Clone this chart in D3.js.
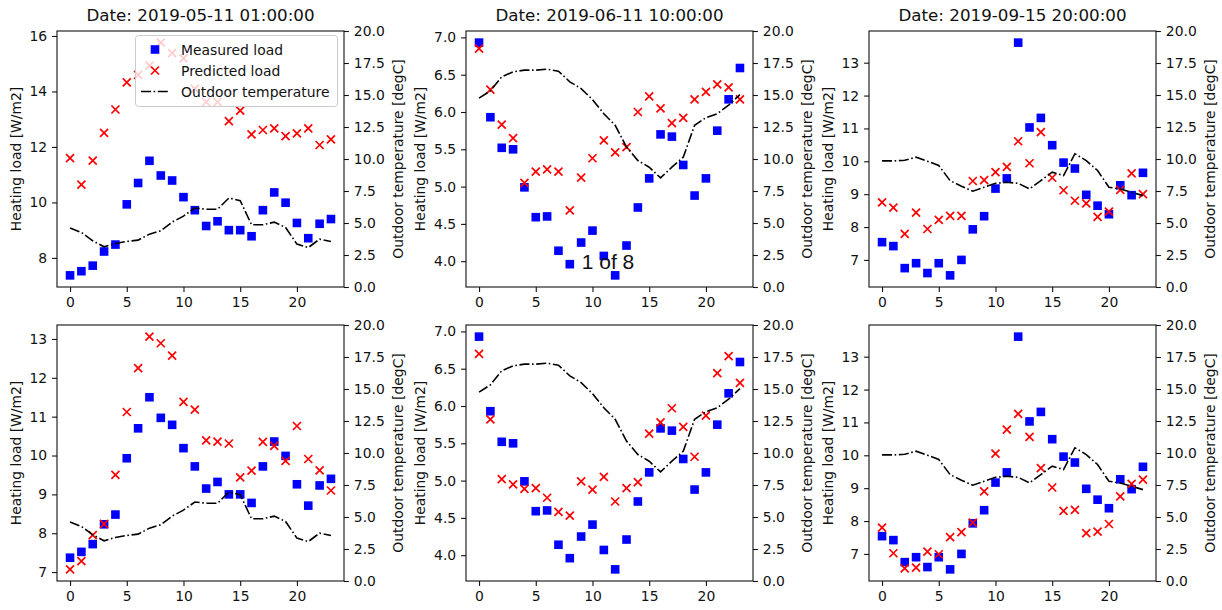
<!DOCTYPE html>
<html><head><meta charset="utf-8">
<script src="https://cdn.jsdelivr.net/npm/d3@7"></script>
<style>
body{margin:0;background:#fff}
svg{display:block}
text{font-family:"DejaVu Sans",sans-serif;fill:#111}
</style>
</head><body>
<svg id="c" width="1222" height="610"></svg>
<script>
// ---------- data ----------
const hours = [0,1,2,3,4,5,6,7,8,9,10,11,12,13,14,15,16,17,18,19,20,21,22,23];
const titles = ["Date: 2019-05-11 01:00:00","Date: 2019-06-11 10:00:00","Date: 2019-09-15 20:00:00"];
const seriesNames = ["Measured load","Predicted load","Outdoor temperature"];

const measuredA = [7.37,7.52,7.72,8.23,8.48,9.93,10.70,11.50,10.97,10.79,10.19,9.72,9.15,9.32,9.00,9.00,8.78,9.72,10.36,9.99,9.26,8.71,9.23,9.40];
const predictedA1 = [11.60,10.64,11.51,12.51,13.35,14.33,14.60,14.93,15.76,15.38,15.19,14.09,13.62,13.62,12.93,13.31,12.45,12.61,12.67,12.39,12.49,12.67,12.07,12.27];
const predictedA2 = [7.07,7.28,7.95,8.24,9.50,11.12,12.25,13.06,12.89,12.57,11.38,11.18,10.39,10.36,10.31,9.44,9.61,10.35,10.25,9.86,10.76,9.91,9.62,9.10];
const temperatureA = [4.60,4.26,3.61,3.14,3.40,3.56,3.66,4.13,4.39,5.07,5.54,6.17,6.07,6.07,6.95,6.75,4.86,4.86,5.07,4.65,3.35,3.08,3.74,3.56];

const measuredB = [6.93,5.93,5.52,5.50,4.99,4.59,4.60,4.14,3.96,4.25,4.41,4.07,3.81,4.21,4.72,5.11,5.70,5.67,5.29,4.88,5.11,5.75,6.17,6.59];
const predictedB1 = [6.85,6.30,5.83,5.65,5.05,5.20,5.23,5.20,4.68,5.12,5.38,5.62,5.46,5.53,6.00,6.21,6.05,5.85,5.92,6.17,6.27,6.37,6.33,6.17];
const predictedB2 = [6.70,5.82,5.02,4.95,4.89,4.90,4.77,4.58,4.53,4.99,4.88,5.05,4.72,4.90,4.98,5.63,5.78,5.97,5.72,5.32,5.87,6.44,6.67,6.31];
const temperatureB = [14.75,15.32,16.42,16.81,16.94,16.94,17.02,16.86,16.03,15.50,14.64,13.54,12.63,10.93,9.88,9.36,8.52,9.36,10.14,12.63,13.23,13.54,14.20,15.03];

const measuredC = [7.54,7.42,6.75,6.90,6.60,6.90,6.53,7.00,7.93,8.33,9.17,9.48,13.61,11.03,11.32,10.49,9.96,9.78,8.98,8.65,8.39,9.27,8.97,9.65];
const predictedC1 = [8.75,8.59,7.79,8.44,7.94,8.22,8.34,8.34,9.40,9.43,9.67,9.83,10.61,9.94,10.89,9.50,9.12,8.80,8.72,8.31,8.47,9.13,9.63,9.00];
const predictedC2 = [7.80,7.02,6.56,6.58,7.07,6.99,7.51,7.66,7.95,8.90,10.05,10.78,11.26,10.56,9.61,9.02,8.31,8.34,7.63,7.68,7.91,8.75,9.13,9.26];
const temperatureC = [9.85,9.85,9.90,10.14,9.83,9.49,8.31,7.87,7.48,7.79,8.10,8.18,8.10,7.66,8.31,8.97,8.71,10.41,9.88,9.10,7.79,7.66,7.40,7.14];

const loadTicksA1 = [8,10,12,14,16];
const loadTicksA2 = [7,8,9,10,11,12,13];
const loadTicksB = [4.0,4.5,5.0,5.5,6.0,6.5,7.0];
const loadTicksC = [7,8,9,10,11,12,13];
const tempTicks = [0,2.5,5,7.5,10,12.5,15,17.5,20];
const hourTicks = [0,5,10,15,20];
const tempDomain = [0,20];

// ---------- layout ----------
const colLeft = [57, 466, 869], rowTop = [31, 325], W = 287, H = 256;
const FS = 13.9, TL = 4.9, TP = 4.9;

const panels = [
  {c:0,r:0,m:measuredA,p:predictedA1,t:temperatureA,ticks:loadTicksA1,fmt:d3.format("d"),legend:true},
  {c:1,r:0,m:measuredB,p:predictedB1,t:temperatureB,ticks:loadTicksB,fmt:d3.format(".1f")},
  {c:2,r:0,m:measuredC,p:predictedC1,t:temperatureC,ticks:loadTicksC,fmt:d3.format("d")},
  {c:0,r:1,m:measuredA,p:predictedA2,t:temperatureA,ticks:loadTicksA2,fmt:d3.format("d")},
  {c:1,r:1,m:measuredB,p:predictedB2,t:temperatureB,ticks:loadTicksB,fmt:d3.format(".1f")},
  {c:2,r:1,m:measuredC,p:predictedC2,t:temperatureC,ticks:loadTicksC,fmt:d3.format("d")}
];

const svg = d3.select("#c");
const xPad = (d3.max(hours) - d3.min(hours)) * 0.05;
const x = d3.scaleLinear().domain([d3.min(hours) - xPad, d3.max(hours) + xPad]).range([0, W]);
const xMark = "M-4,-4L4,4M-4,4L4,-4";

function styleAxis(g){
  g.select(".domain").remove();
  g.selectAll(".tick line").attr("stroke","#111").attr("stroke-width",1.1);
  g.selectAll(".tick text").style("font-size",FS+"px").style("font-family","DejaVu Sans").attr("fill","#111");
}

panels.forEach((P) => {
  const L = colLeft[P.c], T = rowTop[P.r];
  const g = svg.append("g").attr("transform",`translate(${L},${T})`);
  const all = P.m.concat(P.p);
  const [lo, hi] = d3.extent(all);
  const pad = (hi - lo) * 0.05;
  const yL = d3.scaleLinear().domain([lo - pad, hi + pad]).range([H, 0]);
  const yR = d3.scaleLinear().domain(tempDomain).range([H, 0]);

  // left axis content
  g.append("g").selectAll("rect").data(hours).join("rect")
    .attr("x", (d,i) => x(d) - 4.3).attr("y", (d,i) => yL(P.m[i]) - 4.3)
    .attr("width", 8.6).attr("height", 8.6).attr("fill", "#0000ff");
  g.append("g").selectAll("path").data(hours).join("path")
    .attr("d", xMark).attr("transform", (d,i) => `translate(${x(d)},${yL(P.p[i])})`)
    .attr("stroke", "#ff0000").attr("stroke-width", 1.7).attr("fill", "none");

  if (P.legend) {
    const lg = g.append("g").attr("transform","translate(78,4)");
    lg.append("rect").attr("x",0.5).attr("y",0.5).attr("width",202).attr("height",71)
      .attr("rx",3).attr("fill","#fff").attr("fill-opacity",0.8).attr("stroke","#cccccc").attr("stroke-width",1);
    const rows = [14.5, 35.5, 56.5];
    lg.append("rect").attr("x",20-4.3).attr("y",rows[0]-4.3).attr("width",8.6).attr("height",8.6).attr("fill","#0000ff");
    lg.append("path").attr("d",xMark).attr("transform",`translate(20,${rows[1]})`).attr("stroke","#ff0000").attr("stroke-width",1.7);
    lg.append("line").attr("x1",6).attr("x2",34).attr("y1",rows[2]).attr("y2",rows[2])
      .attr("stroke","#000").attr("stroke-width",1.6).attr("stroke-dasharray","10,2.6,1.6,2.6");
    seriesNames.forEach((s,i) => lg.append("text").attr("x",46).attr("y",rows[i]).attr("dy","0.36em")
      .style("font-size",FS+"px").text(s));
  }

  // twin axis: temperature line
  g.append("path").datum(hours)
    .attr("d", d3.line().x(d => x(d)).y((d,i) => yR(P.t[i])))
    .attr("fill","none").attr("stroke","#000").attr("stroke-width",1.6)
    .attr("stroke-dasharray","10,2.6,1.6,2.6");

  // spines
  g.append("rect").attr("x",0).attr("y",0).attr("width",W).attr("height",H)
    .attr("fill","none").attr("stroke","#111").attr("stroke-width",1.1);

  // axes
  const ax = g.append("g").attr("transform",`translate(0,${H})`)
    .call(d3.axisBottom(x).tickValues(hourTicks).tickSize(TL).tickPadding(TP).tickFormat(d3.format("d")));
  styleAxis(ax);
  const ayl = g.append("g")
    .call(d3.axisLeft(yL).tickValues(P.ticks).tickSize(TL).tickPadding(TP).tickFormat(P.fmt));
  styleAxis(ayl);
  const ayr = g.append("g").attr("transform",`translate(${W},0)`)
    .call(d3.axisRight(yR).tickValues(tempTicks).tickSize(TL).tickPadding(TP).tickFormat(d3.format(".1f")));
  styleAxis(ayr);

  const wl = d3.max(ayl.selectAll(".tick text").nodes(), n => n.getComputedTextLength());
  const wr = d3.max(ayr.selectAll(".tick text").nodes(), n => n.getComputedTextLength());

  g.append("text").attr("transform",`translate(${-(TL+TP+wl+5.6+8)},${H/2}) rotate(-90)`)
    .attr("text-anchor","middle").attr("dy","0.35em").style("font-size",FS+"px").text("Heating load [W/m2]");
  g.append("text").attr("transform",`translate(${W+TL+TP+wr+5.6+8},${H/2}) rotate(-90)`)
    .attr("text-anchor","middle").attr("dy","0.35em").style("font-size",FS+"px").text("Outdoor temperature [degC]");

  if (P.r === 0) {
    g.append("text").attr("x",W/2).attr("y",-10).attr("text-anchor","middle")
      .style("font-size","16.7px").text(titles[P.c]);
  }
});

// overlay text
svg.append("text").attr("x",608).attr("y",269).attr("text-anchor","middle")
  .style("font-family","'Liberation Sans',Arial,sans-serif").style("font-size","21px").attr("fill","#000").text("1 of 8");
</script>
</body></html>
